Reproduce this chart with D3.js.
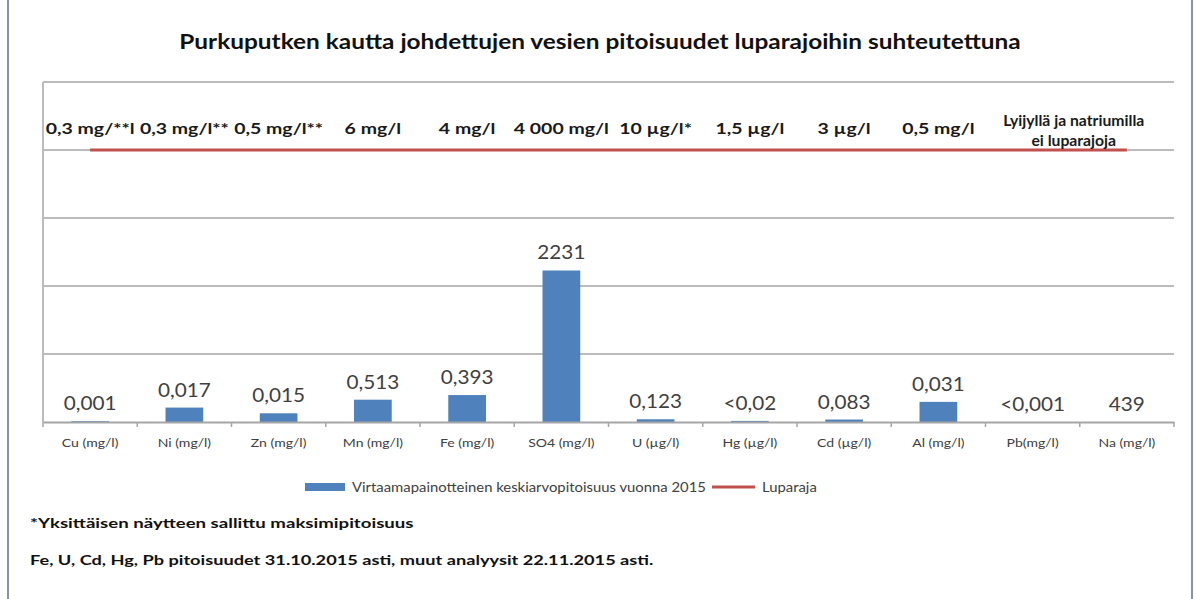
<!DOCTYPE html>
<html>
<head>
<meta charset="utf-8">
<script src="https://cdn.jsdelivr.net/npm/d3@7"></script>
<style>
  body { margin: 0; background: #fff; }
  text { font-family: Lato, "Open Sans", sans-serif; }
</style>
</head>
<body>
<script>
const width = 1197, height = 599;
const margin = ({top: 82, right: 23, bottom: 177, left: 43});

const categories = ["Cu (mg/l)", "Ni (mg/l)", "Zn (mg/l)", "Mn (mg/l)", "Fe (mg/l)", "SO4 (mg/l)",
  "U (µg/l)", "Hg (µg/l)", "Cd (µg/l)", "Al (mg/l)", "Pb(mg/l)", "Na (mg/l)"];
// concentration relative to the permit limit (bar heights)
const ratios = [0.003, 0.053, 0.032, 0.082, 0.099, 0.557, 0.010, 0.004, 0.009, 0.074, 0, 0];
const valueLabels = ["0,001", "0,017", "0,015", "0,513", "0,393", "2231", "0,123", "<0,02", "0,083", "0,031", "<0,001", "439"];
const limitLabels = ["0,3 mg/**l", "0,3 mg/l**", "0,5 mg/l**", "6 mg/l", "4 mg/l", "4 000 mg/l",
  "10 µg/l*", "1,5 µg/l", "3 µg/l", "0,5 mg/l"];
const noLimitLabel = ["Lyijyllä ja natriumilla", "ei luparajoja"];
const limitLevel = 1;
const yTicks = [0, 0.25, 0.5, 0.75, 1, 1.25];

// the source picture is a bit stretched horizontally, so text gets an x-scale
const at = (px, py, sx) => `translate(${px},${py}) scale(${sx},1)`;

const svg = d3.select("body").append("svg")
    .attr("width", width)
    .attr("height", height);

// outer frame
svg.append("rect")
    .attr("x", 8).attr("y", -3)
    .attr("width", 1184).attr("height", height + 6)
    .attr("fill", "none")
    .attr("stroke", "#5f6f8f")
    .attr("stroke-width", 1.5);

svg.append("text")
    .attr("transform", at(600, 49, 1.22))
    .attr("text-anchor", "middle")
    .attr("font-size", 20)
    .attr("font-weight", "bold")
    .attr("fill", "#111")
    .text("Purkuputken kautta johdettujen vesien pitoisuudet luparajoihin suhteutettuna");

const x = d3.scaleBand()
    .domain(categories)
    .range([margin.left, width - margin.right]);

const y = d3.scaleLinear()
    .domain([0, 1.25])
    .range([height - margin.bottom, margin.top]);

// gridlines
svg.append("g")
    .selectAll("line")
    .data(yTicks.slice(1))
    .join("line")
    .attr("x1", margin.left)
    .attr("x2", width - margin.right)
    .attr("y1", d => y(d))
    .attr("y2", d => y(d))
    .attr("stroke", "#bcbcbc")
    .attr("stroke-width", 2);

// left axis line
svg.append("line")
    .attr("x1", margin.left).attr("x2", margin.left)
    .attr("y1", y(1.25)).attr("y2", y(0))
    .attr("stroke", "#bcbcbc")
    .attr("stroke-width", 2);

// bars
const barW = x.bandwidth() * 0.4;
svg.append("g")
    .selectAll("rect")
    .data(ratios)
    .join("rect")
    .attr("x", (d, i) => x(categories[i]) + (x.bandwidth() - barW) / 2)
    .attr("width", barW)
    .attr("y", d => y(d))
    .attr("height", d => y(0) - y(d))
    .attr("fill", "#4f81bd");

// x axis
const xAxis = g => g
    .attr("transform", `translate(0,${y(0)})`)
    .call(d3.axisBottom(x).tickSize(0).tickSizeOuter(0))
    .call(g => g.select(".domain").attr("stroke", "#a6a6a6").attr("stroke-width", 2))
    .call(g => g.selectAll(".tick text")
        .attr("dy", 0)
        .attr("y", 25)
        .attr("transform", "scale(1.17,1)")
        .attr("font-size", 12)
        .attr("font-family", "Lato, sans-serif")
        .attr("fill", "#404040"));

svg.append("g").call(xAxis);

// tick marks on the band edges
svg.append("g")
    .selectAll("line")
    .data(categories.concat([null]))
    .join("line")
    .attr("x1", (d, i) => margin.left + i * x.step())
    .attr("x2", (d, i) => margin.left + i * x.step())
    .attr("y1", y(0))
    .attr("y2", y(0) + 5)
    .attr("stroke", "#a6a6a6")
    .attr("stroke-width", 1.5);

// permit limit line
svg.append("line")
    .attr("x1", x(categories[0]) + x.bandwidth() / 2)
    .attr("x2", x(categories[categories.length - 1]) + x.bandwidth() / 2)
    .attr("y1", y(limitLevel))
    .attr("y2", y(limitLevel))
    .attr("stroke", "#c0504d")
    .attr("stroke-width", 3);

// value labels
svg.append("g")
    .selectAll("text")
    .data(valueLabels)
    .join("text")
    .attr("transform", (d, i) => at(x(categories[i]) + x.bandwidth() / 2, y(ratios[i]) - 11, 1.12))
    .attr("text-anchor", "middle")
    .attr("font-size", 18.5)
    .attr("fill", "#404040")
    .text(d => d);

// limit labels
svg.append("g")
    .selectAll("text")
    .data(limitLabels)
    .join("text")
    .attr("transform", (d, i) => at(x(categories[i]) + x.bandwidth() / 2, 133.5, 1.3))
    .attr("text-anchor", "middle")
    .attr("font-size", 15)
    .attr("font-weight", "bold")
    .attr("fill", "#1a1a1a")
    .text(d => d);

const noLimitX = x(categories[10]) + x.step();
svg.append("g")
    .selectAll("text")
    .data(noLimitLabel)
    .join("text")
    .attr("transform", (d, i) => at(noLimitX - 6, 126 + i * 20, 1.05))
    .attr("text-anchor", "middle")
    .attr("font-size", 15)
    .attr("font-weight", "bold")
    .attr("fill", "#1a1a1a")
    .text(d => d);

// legend
const legend = svg.append("g").attr("transform", "translate(305,487)");
legend.append("rect")
    .attr("x", 0).attr("y", -4)
    .attr("width", 40).attr("height", 8)
    .attr("fill", "#4f81bd");
legend.append("text")
    .attr("transform", at(47, 5, 1.1))
    .attr("font-size", 13.5)
    .attr("fill", "#404040")
    .text("Virtaamapainotteinen keskiarvopitoisuus vuonna 2015");
legend.append("line")
    .attr("x1", 407).attr("x2", 450)
    .attr("y1", 0).attr("y2", 0)
    .attr("stroke", "#c0504d")
    .attr("stroke-width", 3);
legend.append("text")
    .attr("transform", at(457, 5, 1.1))
    .attr("font-size", 13.5)
    .attr("fill", "#404040")
    .text("Luparaja");

// footnotes
svg.append("text")
    .attr("transform", at(30, 528, 1.33))
    .attr("font-size", 14)
    .attr("font-weight", "bold")
    .attr("fill", "#111")
    .text("*Yksittäisen näytteen sallittu maksimipitoisuus");

svg.append("text")
    .attr("transform", at(30, 565, 1.3))
    .attr("font-size", 14)
    .attr("font-weight", "bold")
    .attr("fill", "#111")
    .text("Fe, U, Cd, Hg, Pb pitoisuudet 31.10.2015 asti, muut analyysit 22.11.2015 asti.");
</script>
</body>
</html>
